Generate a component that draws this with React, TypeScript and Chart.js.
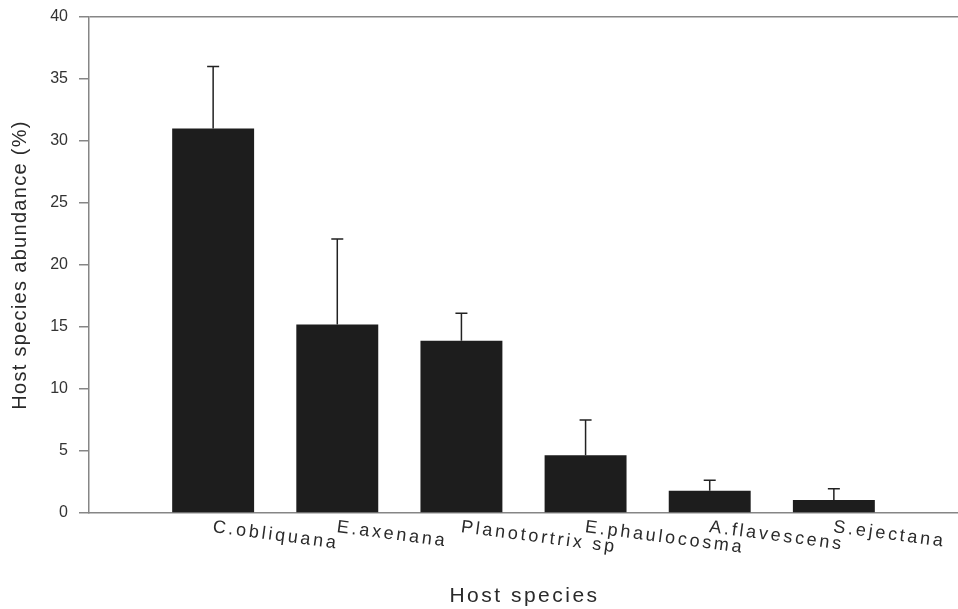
import React, { useEffect, useRef } from "react";
import { Chart, registerables } from "chart.js";

Chart.register(...registerables);

const categories = [
  "C.obliquana",
  "E.axenana",
  "Planotortrix sp",
  "E.phaulocosma",
  "A.flavescens",
  "S.ejectana",
];
const abundance = [31, 15.2, 13.9, 4.65, 1.8, 1.05];
const upperError = [5, 6.9, 2.2, 2.85, 0.85, 0.9];
const yTicks = [0, 5, 10, 15, 20, 25, 30, 35, 40];
const xTitle = "Host species";
const yTitle = "Host species abundance (%)";

const FONT = "'Liberation Sans', Arial, sans-serif";
const AXIS_COLOR = "#868686";
const TEXT_COLOR = "#2a2a2a";

const customDraw = {
  id: "customDraw",
  afterDatasetsDraw(chart: any) {
    const ctx = chart.ctx;
    const meta = chart.getDatasetMeta(0);
    const yScale = chart.scales.y;
    ctx.save();
    ctx.strokeStyle = "#222222";
    ctx.lineWidth = 1.5;
    meta.data.forEach((el: any, i: number) => {
      const idx = i - 1;
      if (idx < 0 || idx >= abundance.length) return;
      const x = el.x;
      const yb = yScale.getPixelForValue(abundance[idx]);
      const yt = yScale.getPixelForValue(abundance[idx] + upperError[idx]);
      ctx.beginPath();
      ctx.moveTo(x, yb);
      ctx.lineTo(x, yt);
      ctx.moveTo(x - 6, yt);
      ctx.lineTo(x + 6, yt);
      ctx.stroke();
    });
    ctx.restore();
  },
  afterDraw(chart: any) {
    const ctx = chart.ctx;
    const xScale = chart.scales.x;
    const area = chart.chartArea;
    ctx.save();
    ctx.fillStyle = TEXT_COLOR;
    ctx.font = `18px ${FONT}`;
    (ctx as any).letterSpacing = "2.8px";
    ctx.textAlign = "left";
    ctx.textBaseline = "alphabetic";
    categories.forEach((c, i) => {
      const x = xScale.getPixelForTick(i + 1);
      ctx.save();
      ctx.translate(x - 1, area.bottom + 19);
      ctx.rotate((7.5 * Math.PI) / 180);
      ctx.fillText(c, 0, 0);
      ctx.restore();
    });
    ctx.font = `21px ${FONT}`;
    (ctx as any).letterSpacing = "2.5px";
    ctx.textAlign = "center";
    ctx.fillText(xTitle, (area.left + area.right) / 2 + 1, 602);
    ctx.font = `20px ${FONT}`;
    (ctx as any).letterSpacing = "1.3px";
    ctx.save();
    ctx.translate(26, (area.top + area.bottom) / 2);
    ctx.rotate(-Math.PI / 2);
    ctx.textAlign = "center";
    ctx.fillText(yTitle, 0, 0);
    ctx.restore();
    (ctx as any).letterSpacing = "0px";
    ctx.restore();
  },
};

export default function App() {
  const ref = useRef<HTMLCanvasElement>(null);
  useEffect(() => {
    document.body.style.margin = "0";
    const labels = ["", ...categories, ""];
    const data = [null, ...abundance, null];
    const chart = new Chart(ref.current!, {
      type: "bar",
      data: {
        labels,
        datasets: [
          {
            data,
            backgroundColor: "#1d1d1d",
            borderWidth: 0,
            categoryPercentage: 0.66,
            barPercentage: 1,
          },
        ],
      },
      options: {
        responsive: false,
        animation: false,
        layout: { padding: { top: 17, right: 0, left: 0, bottom: 0 } },
        plugins: {
          legend: { display: false },
          tooltip: { enabled: false },
        },
        scales: {
          x: {
            type: "category",
            offset: false,
            grid: { display: false },
            border: { display: true, color: AXIS_COLOR, width: 1.5 },
            ticks: { display: false },
            afterFit: (s: any) => {
              s.height = 96;
              s.paddingLeft = 0;
              s.paddingRight = 0;
            },
          },
          y: {
            min: 0,
            max: 40,
            afterBuildTicks: (s: any) => {
              s.ticks = yTicks.map((v) => ({ value: v }));
            },
            grid: {
              drawOnChartArea: true,
              color: (c: any) =>
                c.tick && c.tick.value === 40 ? AXIS_COLOR : "rgba(0,0,0,0)",
              lineWidth: 1.5,
              tickColor: AXIS_COLOR,
              tickLength: 10,
              tickWidth: 1.5,
            },
            border: { display: true, color: AXIS_COLOR, width: 1.5 },
            ticks: {
              color: "#333333",
              font: { family: FONT, size: 16 },
              padding: 11,
            },
            afterFit: (s: any) => {
              s.width = 89;
              s.paddingTop = 0;
              s.paddingBottom = 0;
            },
          },
        },
      },
      plugins: [customDraw],
    } as any);
    return () => chart.destroy();
  }, []);
  return (
    <canvas
      ref={ref}
      width={958}
      height={609}
      style={{ position: "fixed", left: 0, top: 0, width: 958, height: 609 }}
    />
  );
}
